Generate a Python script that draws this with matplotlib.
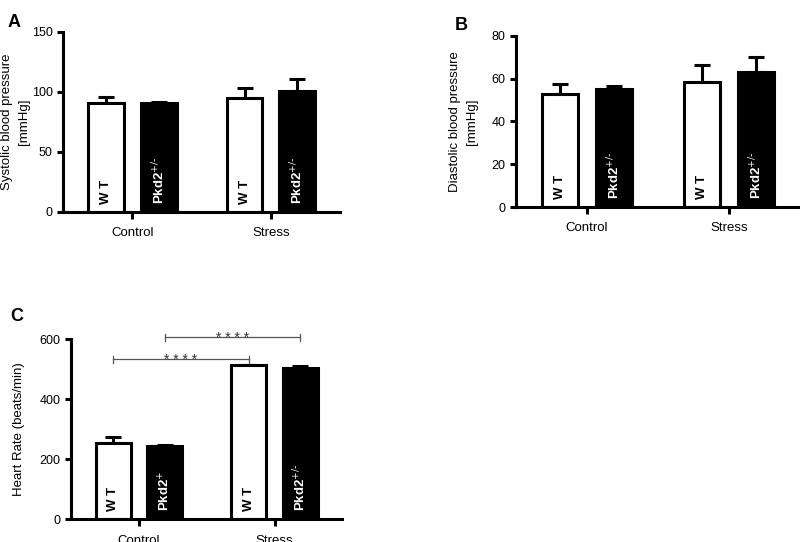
import numpy as np
import matplotlib.pyplot as plt
import matplotlib.transforms as mtransforms

plt.rcParams['font.family'] = ['Liberation Sans', 'DejaVu Sans']

groups = ['Control', 'Stress']
genotypes = ['WT', 'Pkd2']

# panel A: systolic (mean, upper error)
sys_wt = [90.8, 95.3]
sys_wt_err = [5.0, 7.7]
sys_pkd = [91.0, 101.0]
sys_pkd_err = [0.3, 10.0]

# panel B: diastolic
dia_wt = [52.7, 58.6]
dia_wt_err = [4.7, 7.7]
dia_pkd = [55.1, 63.2]
dia_pkd_err = [1.5, 6.8]

# panel C: heart rate
hr_wt = [255.6, 513.0]
hr_wt_err = [18.4, 1.0]
hr_pkd = [243.0, 504.0]
hr_pkd_err = [3.0, 7.0]

pkd_labels_ab = [r'Pkd2$^{+/\text{-}}$', r'Pkd2$^{+/\text{-}}$']
pkd_labels_c = [r'Pkd2$^{+}$', r'Pkd2$^{+/\text{-}}$']

LW = 2.2
W = 0.26
OFF = 0.19


def bar_panel(ax, wt, wt_err, pkd, pkd_err, pkd_labels, yticks, ylabel):
    x = np.arange(len(groups))
    ax.bar(x - OFF, wt, W, color='white', edgecolor='black', linewidth=LW, zorder=2)
    ax.bar(x + OFF, pkd, W, color='black', edgecolor='black', linewidth=LW, zorder=2)
    ax.errorbar(x - OFF, wt, yerr=[np.zeros(len(wt)), wt_err], fmt='none',
                ecolor='black', elinewidth=LW, capsize=6, capthick=LW, zorder=1)
    ax.errorbar(x + OFF, pkd, yerr=[np.zeros(len(pkd)), pkd_err], fmt='none',
                ecolor='black', elinewidth=LW, capsize=6, capthick=LW, zorder=1)
    trans = mtransforms.blended_transform_factory(ax.transData, ax.transAxes)
    for i in range(len(groups)):
        ax.text(x[i] - OFF, 0.045, 'W T', rotation=90, ha='center', va='bottom',
                fontsize=9.5, fontweight='bold', color='black', transform=trans)
        ax.text(x[i] + OFF, 0.045, pkd_labels[i], rotation=90, ha='center', va='bottom',
                fontsize=9.5, fontweight='bold', color='white', transform=trans)
    ax.set_xlim(-0.5, 1.5)
    ax.set_ylim(0, yticks[-1])
    ax.set_yticks(yticks)
    ax.set_xticks(x)
    ax.set_xticklabels(groups, fontsize=9.5)
    ax.tick_params(axis='y', labelsize=9, width=LW, length=4, color='black')
    ax.tick_params(axis='x', width=LW, length=5, pad=6)
    for s in ['top', 'right']:
        ax.spines[s].set_visible(False)
    for s in ['left', 'bottom']:
        ax.spines[s].set_linewidth(LW)
    ax.set_ylabel(ylabel, fontsize=9.5, linespacing=1.5)


fig = plt.figure(figsize=(8, 5.42), dpi=100)
axA = fig.add_axes([0.079, 0.609, 0.346, 0.332])
axB = fig.add_axes([0.645, 0.618, 0.355, 0.316])
axC = fig.add_axes([0.089, 0.042, 0.339, 0.332])

bar_panel(axA, sys_wt, sys_wt_err, sys_pkd, sys_pkd_err, pkd_labels_ab,
          [0, 50, 100, 150], 'Systolic blood pressure\n[mmHg]')
bar_panel(axB, dia_wt, dia_wt_err, dia_pkd, dia_pkd_err, pkd_labels_ab,
          [0, 20, 40, 60, 80], 'Diastolic blood pressure\n[mmHg]')
bar_panel(axC, hr_wt, hr_wt_err, hr_pkd, hr_pkd_err, pkd_labels_c,
          [0, 200, 400, 600], 'Heart Rate (beats/min)')
axA.yaxis.set_label_coords(-0.12, 0.5)
axB.yaxis.set_label_coords(-0.135, 0.5)
axC.yaxis.set_label_coords(-0.17, 0.5)

# significance brackets in C
sig_pairs = [(0 - OFF, 1 - OFF, 533), (0 + OFF, 1 + OFF, 607)]
for x1, x2, yb in sig_pairs:
    axC.plot([x1, x2], [yb, yb], color='#555555', lw=0.9, clip_on=False)
    for xe in (x1, x2):
        axC.plot([xe, xe], [yb - 12, yb + 12], color='#555555', lw=0.9, clip_on=False)
    axC.text((x1 + x2) / 2, yb - 15, '* * * *', ha='center', va='baseline',
             fontsize=10, color='#333333', clip_on=False)

fig.text(0.009, 0.975, 'A', fontsize=13, fontweight='bold', va='top')
fig.text(0.568, 0.968, 'B', fontsize=13, fontweight='bold', va='top')
fig.text(0.013, 0.432, 'C', fontsize=13, fontweight='bold', va='top')

fig.savefig('out.png', dpi=100)
